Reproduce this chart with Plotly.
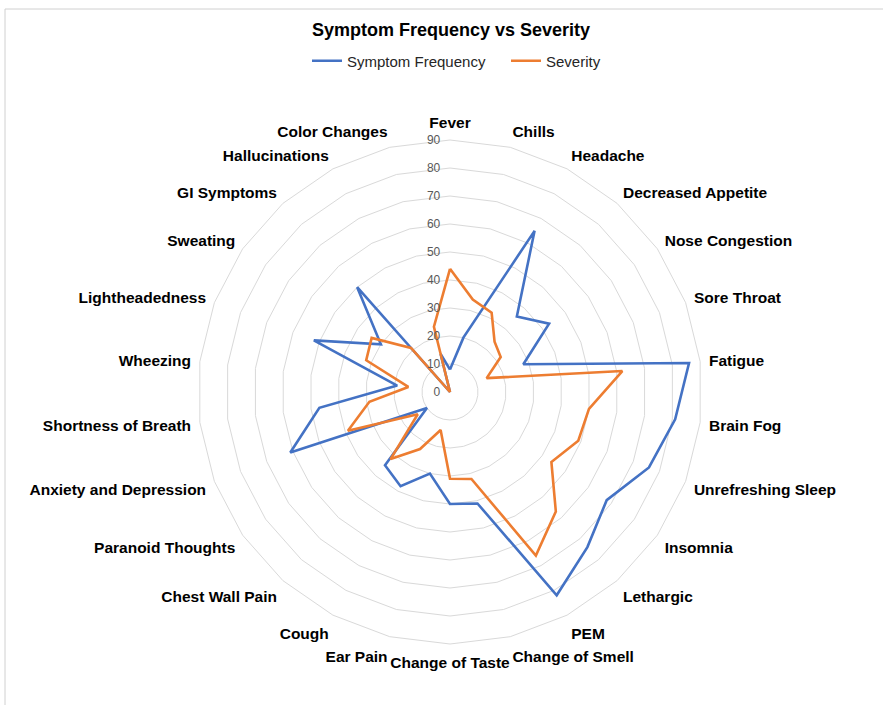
import plotly.graph_objects as go

categories = ["Fever", "Chills", "Headache", "Decreased Appetite", "Nose Congestion",
              "Sore Throat", "Fatigue", "Brain Fog", "Unrefreshing Sleep", "Insomnia",
              "Lethargic", "PEM", "Change of Smell", "Change of Taste", "Ear Pain",
              "Cough", "Chest Wall Pain", "Paranoid Thoughts", "Anxiety and Depression",
              "Shortness of Breath", "Wheezing", "Lightheadedness", "Sweating",
              "GI Symptoms", "Hallucinations", "Color Changes"]

symptom_frequency = [8, 20, 65, 36, 43, 28, 86, 81, 76, 68, 74, 82, 41, 40, 30,
                     38, 35, 10, 61, 47, 19, 52, 30, 50, 0, 14]
severity = [44, 34, 32, 24, 22, 14, 62, 50, 49, 44, 57, 66, 32, 31, 14,
            23, 32, 14, 39, 29, 15, 32, 34, 21, 0, 24]

radial_ticks = list(range(0, 100, 10))
axis_max = 90
label_pad = 3  # extra radial room so category labels sit further out

def closed(vals):
    return list(vals) + [vals[0]]

fig = go.Figure()
fig.add_trace(go.Scatterpolar(
    r=closed(symptom_frequency), theta=closed(categories), mode="lines",
    name="Symptom Frequency", line=dict(color="#4472C4", width=2.6)))
fig.add_trace(go.Scatterpolar(
    r=closed(severity), theta=closed(categories), mode="lines",
    name="Severity", line=dict(color="#ED7D31", width=2.6)))

W, H = 883, 705
cx, cy, R90 = 450, 392, 252
R = R90 * (axis_max + label_pad) / axis_max
fig.update_layout(
    width=W, height=H,
    margin=dict(l=0, r=0, t=0, b=0),
    paper_bgcolor="white", plot_bgcolor="white",
    font=dict(family="Liberation Sans, Arial, sans-serif", color="#000000"),
    title=dict(text="<b>Symptom Frequency vs Severity</b>", x=451 / W, xanchor="center",
               y=1 - 30 / H, yanchor="middle", font=dict(size=18, color="#000000")),
    showlegend=True,
    legend=dict(orientation="h", x=307 / W, xanchor="left", y=1 - 61 / H, yanchor="middle",
                entrywidth=154, entrywidthmode="pixels",
                font=dict(size=15, color="#262626"), itemwidth=30, bgcolor="rgba(0,0,0,0)"),
    polar=dict(
        domain=dict(x=[(cx - R) / W, (cx + R) / W],
                    y=[(H - cy - R) / H, (H - cy + R) / H]),
        bgcolor="white",
        gridshape="linear",
        angularaxis=dict(rotation=90, direction="clockwise", showgrid=False,
                         showline=False, ticks="",
                         tickfont=dict(size=15.5, color="#000000",
                                       family="Liberation Sans, Arial, sans-serif",
                                       weight="bold")),
        radialaxis=dict(range=[0, axis_max + label_pad], tickvals=radial_ticks, angle=90,
                        tickangle=90, side="counterclockwise",
                        ticks="outside", ticklen=5, tickcolor="rgba(0,0,0,0)",
                        showline=False, gridcolor="#d9d9d9", gridwidth=1,
                        tickfont=dict(size=12, color="#595959")),
    ),
    shapes=[dict(type="rect", xref="paper", yref="paper", x0=5 / W, x1=1.05,
                 y0=-0.05, y1=1 - 9 / H, line=dict(color="#d0d0d0", width=1))],
)

fig.write_html("out.html", config={"displayModeBar": False},
               post_script="document.body.style.margin='0';")
